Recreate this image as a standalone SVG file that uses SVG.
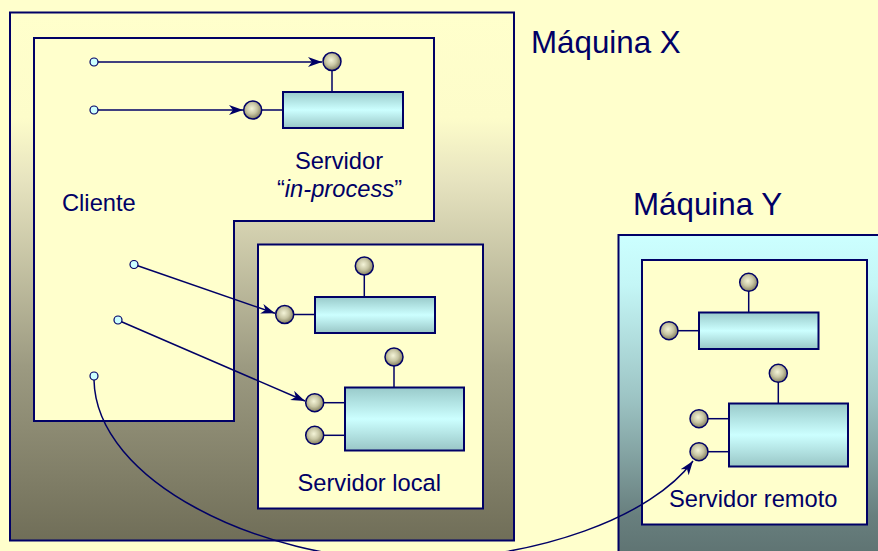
<svg xmlns="http://www.w3.org/2000/svg" width="878" height="551" viewBox="0 0 878 551">
<defs>
<linearGradient id="gX" x1="0" y1="0" x2="0" y2="1">
<stop offset="0" stop-color="#FFFFCC"/>
<stop offset="0.2" stop-color="#FDFCCA"/>
<stop offset="0.32" stop-color="#E6E3BF"/>
<stop offset="0.67" stop-color="#9C9A81"/>
<stop offset="1" stop-color="#706E58"/>
</linearGradient>
<linearGradient id="gY" x1="0" y1="0" x2="0" y2="1">
<stop offset="0" stop-color="#CCFFFF"/>
<stop offset="0.15" stop-color="#C4F6F6"/>
<stop offset="0.5" stop-color="#9CC3C3"/>
<stop offset="0.85" stop-color="#687F7E"/>
<stop offset="1" stop-color="#5C706F"/>
</linearGradient>
<linearGradient id="gR" x1="0" y1="0" x2="0" y2="1">
<stop offset="0" stop-color="#99CACA"/>
<stop offset="0.5" stop-color="#CCFFFF"/>
<stop offset="1" stop-color="#99C6C6"/>
</linearGradient>
<radialGradient id="gB" cx="0.45" cy="0.42" r="0.6">
<stop offset="0" stop-color="#F4F4D8"/>
<stop offset="0.5" stop-color="#C8C6A4"/>
<stop offset="1" stop-color="#7C7858"/>
</radialGradient>
<marker id="ah" markerUnits="userSpaceOnUse" markerWidth="15" markerHeight="11" refX="14" refY="5" orient="auto">
<path d="M0,0 L14,5 L0,10 L4,5 Z" fill="#000066"/>
</marker>
<style>
.box{stroke:#000066;stroke-width:2}
.pale{fill:#FFFFCC}
.rc{fill:url(#gR);stroke:#000066;stroke-width:2}
.ball{fill:url(#gB);stroke:#000066;stroke-width:1.5}
.stem{stroke:#000066;stroke-width:1.5}
.dot{fill:#CCFFFF;stroke:#000066;stroke-width:1.2}
.conn{fill:none;stroke:#000066;stroke-width:1.5}
.t{font-family:"Liberation Sans",Arial,sans-serif;fill:#000066;font-size:23.7px}
.big{font-size:31.3px}
</style>
</defs>
<rect width="878" height="551" fill="#FFFFCC"/>

<g id="maquina-x">
<rect class="box" x="10" y="12.5" width="504" height="528" fill="url(#gX)"/>
<text class="t big" x="531" y="53">Máquina X</text>
</g>

<g id="cliente">
<polygon class="box pale" points="34,38 434,38 434,221 234,221 234,421 34,421"/>
<text class="t" x="62" y="211">Cliente</text>
<circle class="dot" cx="94" cy="62" r="4"/>
<circle class="dot" cx="94" cy="110" r="4"/>
<circle class="dot" cx="134" cy="264.5" r="4"/>
<circle class="dot" cx="118" cy="320" r="4"/>
<circle class="dot" cx="94" cy="376" r="4"/>
</g>

<g id="servidor-in-process">
<line class="stem" x1="332" y1="61.5" x2="332" y2="92"/>
<line class="stem" x1="252.7" y1="110" x2="283" y2="110"/>
<rect class="rc" x="283" y="92" width="120" height="36"/>
<circle class="ball" cx="332" cy="61.5" r="9"/>
<circle class="ball" cx="252.7" cy="110" r="9"/>
<text class="t" x="339" y="169" text-anchor="middle">Servidor</text>
<text class="t" x="339.5" y="197" text-anchor="middle">“<tspan font-style="italic">in-process</tspan>”</text>
</g>

<g id="servidor-local">
<rect class="box pale" x="258" y="244.5" width="225" height="264"/>
<line class="stem" x1="364.3" y1="266" x2="364.3" y2="297"/>
<line class="stem" x1="284.7" y1="314.5" x2="315" y2="314.5"/>
<rect class="rc" x="315" y="297" width="120" height="36"/>
<circle class="ball" cx="364.3" cy="266" r="9"/>
<circle class="ball" cx="284.7" cy="314.5" r="9"/>
<line class="stem" x1="394" y1="357" x2="394" y2="387.5"/>
<line class="stem" x1="314.7" y1="402.7" x2="345" y2="402.7"/>
<line class="stem" x1="314.7" y1="435.3" x2="345" y2="435.3"/>
<rect class="rc" x="345" y="387.5" width="119" height="63"/>
<circle class="ball" cx="394" cy="357" r="9"/>
<circle class="ball" cx="314.7" cy="402.7" r="9"/>
<circle class="ball" cx="314.7" cy="435.3" r="9"/>
<text class="t" x="297.5" y="491">Servidor local</text>
</g>

<g id="maquina-y">
<rect class="box" x="618.5" y="235" width="270" height="330" fill="url(#gY)"/>
<text class="t big" x="633" y="215">Máquina Y</text>
</g>

<g id="servidor-remoto">
<rect class="box pale" x="642" y="260" width="225" height="264.5"/>
<line class="stem" x1="748.7" y1="282.3" x2="748.7" y2="312.5"/>
<line class="stem" x1="669" y1="330.7" x2="699" y2="330.7"/>
<rect class="rc" x="699" y="312.5" width="119.5" height="36.5"/>
<circle class="ball" cx="748.7" cy="282.3" r="9"/>
<circle class="ball" cx="669" cy="330.7" r="9"/>
<line class="stem" x1="778.3" y1="373.3" x2="778.3" y2="403.5"/>
<line class="stem" x1="699" y1="418.7" x2="729" y2="418.7"/>
<line class="stem" x1="699" y1="451.7" x2="729" y2="451.7"/>
<rect class="rc" x="729" y="403.5" width="119" height="63"/>
<circle class="ball" cx="778.3" cy="373.3" r="9"/>
<circle class="ball" cx="699" cy="418.7" r="9"/>
<circle class="ball" cx="699" cy="451.7" r="9"/>
<text class="t" x="669" y="507">Servidor remoto</text>
</g>

<g id="conectores">
<line class="conn" x1="98" y1="62" x2="322" y2="62" marker-end="url(#ah)"/>
<line class="conn" x1="98" y1="110" x2="243" y2="110" marker-end="url(#ah)"/>
<line class="conn" x1="137.7" y1="265.7" x2="275" y2="313.3" marker-end="url(#ah)"/>
<line class="conn" x1="121.5" y1="321.7" x2="305" y2="401" marker-end="url(#ah)"/>
<path class="conn" d="M94,380 C96,482 262,560 405,560 C540,560 652,516 693,461" marker-end="url(#ah)"/>
</g>
</svg>
